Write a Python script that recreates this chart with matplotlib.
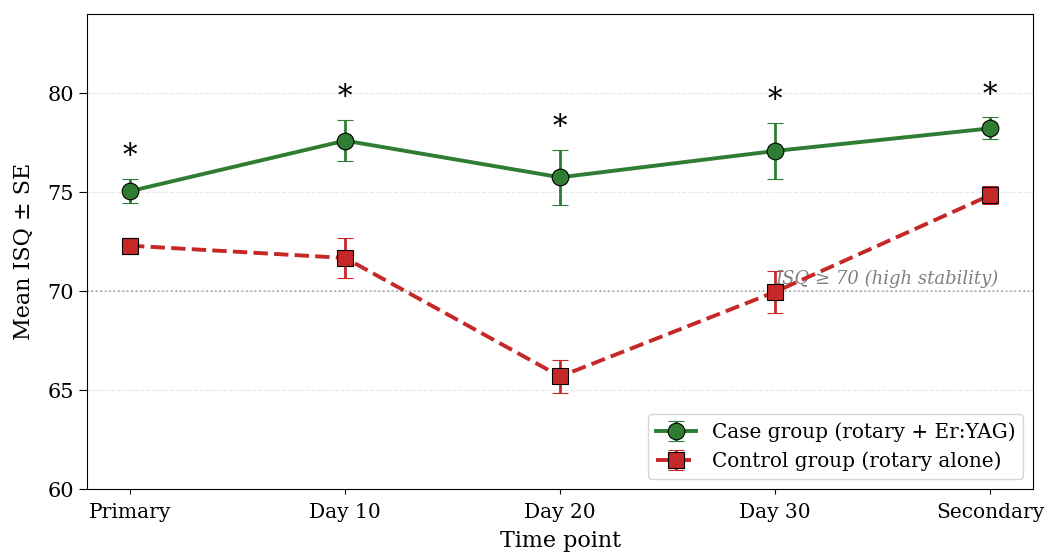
import matplotlib
matplotlib.use("Agg")
import matplotlib.pyplot as plt

plt.rcParams['font.family'] = 'DejaVu Serif'

time_points = ['Primary', 'Day 10', 'Day 20', 'Day 30', 'Secondary']
case_mean = [75.05, 77.6, 75.75, 77.08, 78.22]
case_se = [0.6, 1.05, 1.4, 1.4, 0.55]
ctrl_mean = [72.3, 71.68, 65.7, 69.97, 74.85]
ctrl_se = [0.4, 1.0, 0.85, 1.05, 0.45]
threshold = 70

green = '#2e7d32'
red = '#c62828'

fig, ax = plt.subplots(figsize=(10.48, 5.53), dpi=100)
x = list(range(len(time_points)))

ax.errorbar(x, case_mean, yerr=case_se, color=green, marker='o', markersize=12,
            markeredgecolor='black', markeredgewidth=0.8, linewidth=2.8,
            elinewidth=2, capsize=6, capthick=1.5, label='Case group (rotary + Er:YAG)',
            zorder=3)
ax.errorbar(x, ctrl_mean, yerr=ctrl_se, color=red, marker='s', markersize=12,
            markeredgecolor='black', markeredgewidth=0.8, linewidth=2.8, linestyle='--',
            elinewidth=2, capsize=6, capthick=1.5, label='Control group (rotary alone)',
            zorder=3)

# significance markers
for xi, m, s in zip(x, case_mean, case_se):
    ax.text(xi, m + s + 0.45, '*', ha='center', va='bottom', fontsize=21)

ax.axhline(threshold, color='gray', linestyle=':', linewidth=1.2, alpha=0.7, zorder=1)
ax.text(3.0, threshold + 0.15, 'ISQ ≥ 70 (high stability)', color='gray',
        fontstyle='italic', fontsize=13, ha='left', va='bottom')

ax.set_xticks(x)
ax.set_xticklabels(time_points, fontsize=14.5)
ax.tick_params(axis='x', pad=6)
ax.tick_params(axis='y', labelsize=15, length=6)
ax.set_xlim(-0.2, 4.2)
ax.set_ylim(60, 84)
ax.set_yticks([60, 65, 70, 75, 80])
ax.yaxis.grid(True, linestyle='--', alpha=0.3)
ax.set_axisbelow(True)
ax.set_xlabel('Time point', fontsize=16, labelpad=6)
ax.set_ylabel('Mean ISQ ± SE', fontsize=16, labelpad=9)
ax.legend(loc='lower right', fontsize=14.4)

plt.subplots_adjust(left=0.083, right=0.986, top=0.975, bottom=0.115)
plt.savefig('out.png', dpi=100)
